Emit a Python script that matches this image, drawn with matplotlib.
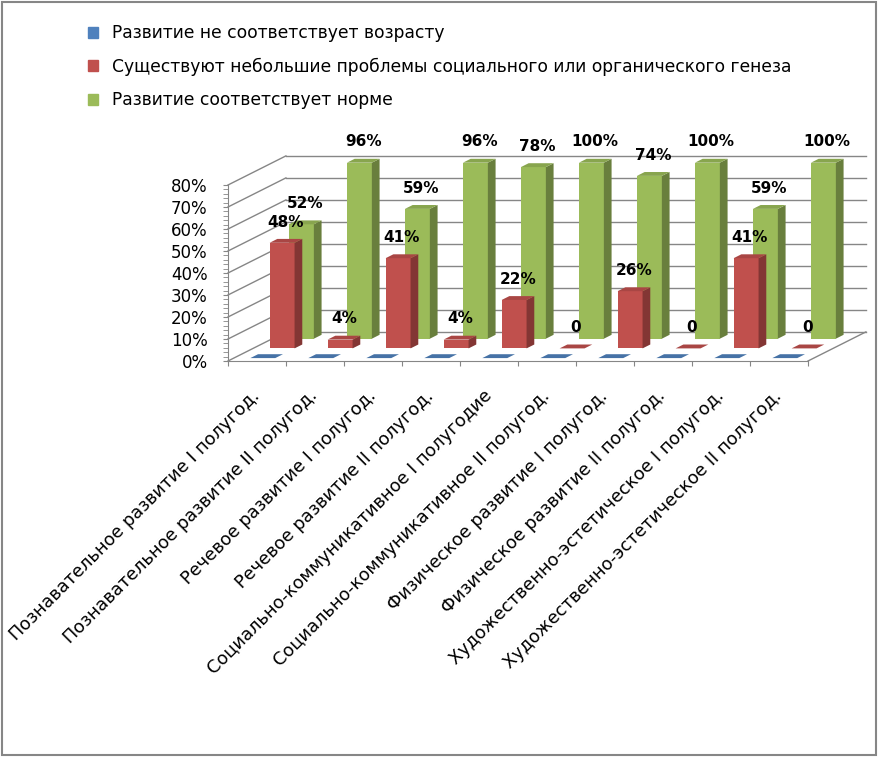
import numpy as np
import matplotlib.pyplot as plt
from matplotlib.patches import Polygon, Rectangle, Patch
from matplotlib.colors import to_rgb

categories = ['Познавательное развитие I полугод.',
              'Познавательное развитие II полугод.',
              'Речевое развитие I полугод.',
              'Речевое развитие II полугод.',
              'Социально-коммуникативное I полугодие',
              'Социально-коммуникативное II полугод.',
              'Физическое развитие I полугод.',
              'Физическое развитие II полугод.',
              'Художественно-эстетическое I полугод.',
              'Художественно-эстетическое II полугод.']
series_names = ['Развитие не соответствует возрасту',
                'Существуют небольшие проблемы социального или органического генеза',
                'Развитие соответствует норме']
not_age = [0, 0, 0, 0, 0, 0, 0, 0, 0, 0]
small_problems = [48, 4, 41, 4, 22, 0, 26, 0, 41, 0]
norm = [52, 96, 59, 96, 78, 100, 74, 100, 59, 100]
y_ticks = [0, 10, 20, 30, 40, 50, 60, 70, 80]
y_max = 80

colors = ['#4F81BD', '#C0504D', '#9BBB59']
grey = '#868686'

# oblique "3d" look: one depth row shifts by DX categories and DZ percent
DX = 19.3 / 58
DZ = 9.7 / 2.2
W = 0.43      # front face width
BD = 0.4      # bar depth, part of a row


def shade(c, k):
    return tuple(np.array(to_rgb(c)) * k)


fig = plt.figure(figsize=(8.79, 7.57), dpi=100)
ax = fig.add_axes([228 / 879, 396 / 757, 652 / 879, 261 / 757])
ax.set_xlim(0, 652 / 58)
ax.set_ylim(0, 261 / 2.2)
ax.patch.set_visible(False)

n = len(categories)
# walls
for v in y_ticks:
    ax.plot([0, 3 * DX], [v, v + 3 * DZ], color=grey, lw=1, zorder=1, clip_on=False)
    ax.plot([3 * DX, n + 3 * DX], [v + 3 * DZ, v + 3 * DZ], color=grey, lw=1, zorder=1, clip_on=False)
ax.plot([n, n + 3 * DX], [0, 3 * DZ], color=grey, lw=1, zorder=1, clip_on=False)

series = [not_age, small_problems, norm]
for r in [2, 1, 0]:
    vals = np.array(series[r], dtype=float)
    col = colors[r]
    z = 5 - r
    d0 = r + (1 - BD) / 2
    xs = np.arange(n) + 0.5 + d0 * DX
    base = d0 * DZ
    h = np.minimum(vals, y_max)
    ax.bar(xs, h, width=W, bottom=base, color=col, linewidth=0, zorder=z)
    bdx, bdz = BD * DX, BD * DZ
    for i in range(n):
        xl, xr = xs[i] - W / 2, xs[i] + W / 2
        top = base + h[i]
        if h[i] > 0:
            ax.add_patch(Polygon([(xr, base), (xr + bdx, base + bdz), (xr + bdx, top + bdz), (xr, top)],
                                 closed=True, fc=shade(col, 0.68), ec='none', zorder=z))
        ax.add_patch(Polygon([(xl, top), (xr, top), (xr + bdx, top + bdz), (xl + bdx, top + bdz)],
                             closed=True, fc=shade(col, 0.88), ec='none', zorder=z))
        if r > 0:
            txt = '0' if vals[i] == 0 else '%d%%' % vals[i]
            ax.annotate(txt, (xs[i] + bdx / 2, top + bdz / 2), xytext=(0, 13.5),
                        textcoords='offset points', ha='center', va='center',
                        fontsize=11, fontweight='bold', zorder=10)

for s in ['top', 'right']:
    ax.spines[s].set_visible(False)
ax.spines['left'].set_bounds(0, y_max)
ax.spines['bottom'].set_bounds(0, n)
ax.spines['left'].set_color(grey)
ax.spines['bottom'].set_color(grey)

ax.set_yticks(y_ticks)
ax.set_yticklabels(['%d%%' % v for v in y_ticks], fontsize=12)
ax.set_yticks(np.arange(0, y_max + 1, 2), minor=True)
ax.tick_params(axis='y', which='both', length=3.6, direction='out', color=grey, pad=11)

ax.set_xticks(np.arange(n + 1))
ax.set_xticklabels([])
ax.set_xticks(np.arange(n) + 0.5, minor=True)
ax.set_xticklabels(categories, minor=True, fontsize=12.75, rotation=45,
                   ha='right', va='center', rotation_mode='anchor')
ax.tick_params(axis='x', which='major', length=3.6, direction='out', color=grey)
ax.tick_params(axis='x', which='minor', length=0, pad=23)

handles = [Patch(color=c) for c in colors]
fig.legend(handles, series_names, loc='upper left', bbox_to_anchor=(88 / 879, 1 - 24.5 / 757),
           frameon=False, fontsize=12.3, handlelength=0.6, handleheight=0.6,
           handletextpad=0.82, labelspacing=0.89, borderpad=0, borderaxespad=0)

fig.patches.append(Rectangle((0.002, 0.002), 0.995, 0.995, transform=fig.transFigure,
                             fill=False, edgecolor=grey, lw=1.5))

fig.savefig('out.png', dpi=100)
